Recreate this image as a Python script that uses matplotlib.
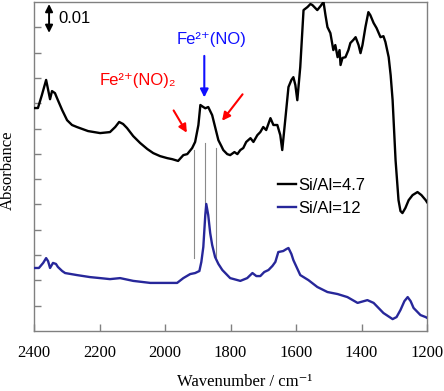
import matplotlib
matplotlib.use("Agg")
import matplotlib.pyplot as plt
import numpy as np

# ---- data (wavenumber cm-1, absorbance) ----
wn_a = [2400, 2388, 2376, 2363, 2351, 2345, 2336, 2327, 2314, 2299, 2284, 2269, 2235, 2198, 2168,
        2152, 2140, 2128, 2116, 2097, 2076, 2054, 2036, 2015, 1993, 1978, 1960, 1944, 1932,
        1917, 1908, 1898, 1892, 1883, 1877, 1868, 1856, 1847, 1837, 1828, 1822, 1810, 1801,
        1788, 1779, 1770, 1761, 1752, 1739, 1730, 1718, 1709, 1700, 1691, 1678, 1669, 1657,
        1648, 1642, 1632, 1623, 1614, 1608, 1602, 1596, 1587, 1577, 1565, 1556, 1550, 1541,
        1535, 1525, 1516, 1510, 1504, 1495, 1486, 1480, 1473, 1467, 1464, 1458, 1449, 1440,
        1434, 1425, 1418, 1409, 1403, 1397, 1388, 1379, 1373, 1363, 1354, 1342, 1333, 1327,
        1317, 1311, 1305, 1296, 1287, 1281, 1275, 1266, 1256, 1244, 1229, 1217, 1204, 1200]
abs_a = [0.0881, 0.0881, 0.0932, 0.0992, 0.0916, 0.0948, 0.0940, 0.0912, 0.0873, 0.0833, 0.0814,
         0.0806, 0.0790, 0.0782, 0.0786, 0.0806, 0.0826, 0.0818, 0.0802, 0.0770, 0.0743,
         0.0719, 0.0703, 0.0691, 0.0683, 0.0679, 0.0672, 0.0695, 0.0699, 0.0723, 0.0747,
         0.0814, 0.0893, 0.0885, 0.0880, 0.0885, 0.0853, 0.0806, 0.0754, 0.0731, 0.0715,
         0.0699, 0.0695, 0.0707, 0.0699, 0.0715, 0.0723, 0.0747, 0.0762, 0.0747, 0.0774,
         0.0786, 0.0806, 0.0794, 0.0841, 0.0814, 0.0814, 0.0774, 0.0715, 0.0845, 0.0964,
         0.0992, 0.1003, 0.0972, 0.0912, 0.1043, 0.1268, 0.1280, 0.1292, 0.1288, 0.1276,
         0.1268, 0.1284, 0.1300, 0.1248, 0.1201, 0.1177, 0.1110, 0.1130, 0.1082, 0.1110,
         0.1051, 0.1079, 0.1082, 0.1110, 0.1138, 0.1150, 0.1161, 0.1130, 0.1098, 0.1130,
         0.1201, 0.1260, 0.1248, 0.1217, 0.1197, 0.1161, 0.1165, 0.1142, 0.1082, 0.1011,
         0.0912, 0.0675, 0.0517, 0.0474, 0.0466, 0.0486, 0.0517, 0.0537, 0.0549, 0.0537,
         0.0517, 0.0509]

wn_b = [2400, 2385, 2372, 2363, 2357, 2351, 2342, 2333, 2327, 2314, 2305, 2269, 2229, 2198,
        2168, 2137, 2097, 2045, 1993, 1963, 1944, 1923, 1908, 1895, 1889, 1883, 1877, 1874,
        1868, 1862, 1856, 1847, 1837, 1825, 1801, 1770, 1749, 1733, 1721, 1709, 1697, 1684,
        1672, 1663, 1654, 1639, 1629, 1623, 1614, 1608, 1587, 1562, 1535, 1504, 1473, 1443,
        1412, 1382, 1363, 1333, 1305, 1293, 1281, 1269, 1259, 1250, 1241, 1220, 1204, 1200]
abs_b = [0.0249, 0.0249, 0.0269, 0.0288, 0.0276, 0.0249, 0.0269, 0.0265, 0.0253, 0.0237,
         0.0229, 0.0221, 0.0213, 0.0209, 0.0205, 0.0209, 0.0198, 0.0190, 0.0190, 0.0190,
         0.0209, 0.0225, 0.0229, 0.0237, 0.0273, 0.0332, 0.0458, 0.0502, 0.0458, 0.0387,
         0.0340, 0.0292, 0.0265, 0.0241, 0.0209, 0.0198, 0.0209, 0.0229, 0.0217, 0.0217,
         0.0233, 0.0241, 0.0257, 0.0273, 0.0312, 0.0316, 0.0324, 0.0328, 0.0304, 0.0280,
         0.0221, 0.0201, 0.0174, 0.0154, 0.0146, 0.0134, 0.0111, 0.0122, 0.0111, 0.0071,
         0.0047, 0.0055, 0.0083, 0.0118, 0.0134, 0.0118, 0.0091, 0.0063, 0.0055, 0.0052]

labels = ["Si/Al=4.7", "Si/Al=12"]
colors = ["#000000", "#27279a"]
xticks = [2400, 2200, 2000, 1800, 1600, 1400, 1200]
guide_wn = [1911, 1877, 1843]
guide_top = [0.0715, 0.0743, 0.0723]
guide_bot = [0.0288, 0.0502, 0.0292]

fig = plt.figure(figsize=(4.44, 3.91), dpi=100)
ax = fig.add_axes([34/444, 1-331/391, (427-34)/444, (331-2)/391])

for w, t, b in zip(guide_wn, guide_top, guide_bot):
    ax.plot([w, w], [b, t], color="#8a8a8a", lw=0.8, zorder=1)

ax.plot(wn_a, abs_a, color=colors[0], lw=1.7, label=labels[0], zorder=3,
        solid_joinstyle='round')
ax.plot(wn_b, abs_b, color=colors[1], lw=1.7, label=labels[1], zorder=3,
        solid_joinstyle='round')

ax.set_xlim(2400, 1200)
ax.set_ylim(0, 0.13)
ax.set_xticks(xticks)
ax.set_yticks(np.arange(0.01, 0.13, 0.01))
ax.set_yticklabels([])
ax.tick_params(axis='both', direction='in', length=5, color='#808080', width=1)
ax.tick_params(axis='x', labelsize=12, pad=10)
for lab in ax.get_xticklabels():
    lab.set_family('Liberation Serif')
for s in ax.spines.values():
    s.set_color('#808080')
    s.set_linewidth(1)

ax.set_xlabel("Wavenumber / cm\u207b\u00b9", family=['Liberation Serif', 'DejaVu Serif'],
              fontsize=12)
ax.xaxis.set_label_coords((245-34)/393, -(382-331)/329)
ax.xaxis.label.set_va('center')
ax.set_ylabel("Absorbance", family='Liberation Serif', fontsize=12)
ax.yaxis.set_label_coords(-(34-8)/393, 0.49)
ax.yaxis.label.set_va('center')

leg = ax.legend(loc='upper left', bbox_to_anchor=(0.621, 0.465), frameon=False,
                borderpad=0, borderaxespad=0, handlelength=1.1, handletextpad=0.1,
                labelspacing=0.45, prop={'family': 'Liberation Sans', 'size': 12})

fam = ['Liberation Sans', 'DejaVu Sans']
# annotations
ax.text(2082, 0.0991, "Fe\u00b2\u207a(NO)\u2082", color='red', ha='center', va='center',
        family=fam, fontsize=12)
ax.annotate("", xy=(1929, 0.0774), xytext=(1978, 0.0881),
            arrowprops=dict(arrowstyle='-|>', color='red', lw=1.5, mutation_scale=12))
ax.annotate("", xy=(1831, 0.0822), xytext=(1758, 0.0944),
            arrowprops=dict(arrowstyle='-|>', color='red', lw=1.5, mutation_scale=12))
ax.text(1859, 0.115, "Fe\u00b2\u207a(NO)", color='#1010ff', ha='center', va='center',
        family=fam, fontsize=12)
ax.annotate("", xy=(1880, 0.0912), xytext=(1880, 0.1098),
            arrowprops=dict(arrowstyle='-|>', color='#1010ff', lw=1.5, mutation_scale=12))
ax.annotate("", xy=(2354, 0.1178), xytext=(2354, 0.1292),
            arrowprops=dict(arrowstyle='<|-|>', color='black', lw=1.4, mutation_scale=11,
                            shrinkA=0, shrinkB=0))
ax.text(2327, 0.1236, "0.01", ha='left', va='center', family='Liberation Sans', fontsize=12)

fig.savefig("out.png", dpi=100)
